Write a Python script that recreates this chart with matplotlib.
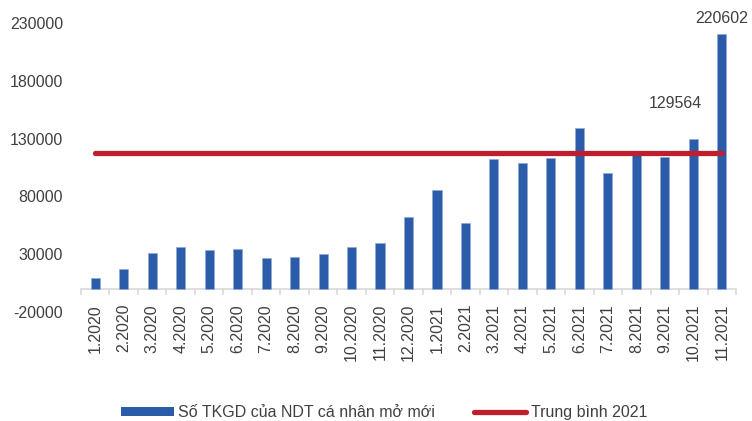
import matplotlib.pyplot as plt
from matplotlib.patches import Patch
from matplotlib.lines import Line2D
import numpy as np

plt.rcParams['font.family'] = ['Liberation Sans', 'DejaVu Sans']
plt.rcParams['axes.unicode_minus'] = False

# Monthly data
months = ['1.2020', '2.2020', '3.2020', '4.2020', '5.2020', '6.2020', '7.2020',
          '8.2020', '9.2020', '10.2020', '11.2020', '12.2020', '1.2021', '2.2021',
          '3.2021', '4.2021', '5.2021', '6.2021', '7.2021', '8.2021', '9.2021',
          '10.2021', '11.2021']
new_accounts = [9000, 17600, 31100, 35800, 33500, 34300, 26500, 27700, 30600,
                35800, 40100, 62300, 85400, 56600, 112200, 109300, 112800,
                139000, 100300, 117500, 113900, 129564, 220602]
avg_2021 = 117900

bar_color = '#2B5CA9'
line_color = '#BE1E2D'
text_color = '#404040'

fig = plt.figure(figsize=(7.52, 4.21), dpi=100)
ax = fig.add_axes([81 / 752, 109 / 421, 655 / 752, 289 / 421])

x = np.arange(len(months))
ax.bar(x, new_accounts, 0.32, color=bar_color, edgecolor='#8FA9D6',
       linewidth=0.5, zorder=2)
ax.plot([x[0], x[-1]], [avg_2021, avg_2021], color=line_color, lw=3.8,
        solid_capstyle='round', zorder=3)

# data labels for the last two months
ax.annotate(f'{new_accounts[-2]}', (x[-2], new_accounts[-2]),
            xytext=(-13, 20), textcoords='offset points', ha='center',
            va='bottom', fontsize=11.5, color=text_color)
ax.annotate(f'{new_accounts[-1]}', (x[-1], new_accounts[-1]),
            xytext=(0, 6), textcoords='offset points', ha='center',
            va='bottom', fontsize=11.5, color=text_color)

ax.set_xlim(-0.5, len(months) - 0.5)
ax.set_ylim(-20000, 230000)
ax.set_yticks(np.arange(-20000, 230001, 50000))
ax.tick_params(axis='y', length=0, labelsize=11.5, labelcolor=text_color, pad=13)

# category axis drawn at zero, with labels hanging below it
for s in ['top', 'right', 'left', 'bottom']:
    ax.spines[s].set_visible(False)
ax.axhline(0, color='#D9D9D9', lw=1.2, zorder=1)
ax.set_xticks([])
for b in np.arange(-0.5, len(months), 1.0):
    ax.plot([b, b], [0, -4500], color='#D9D9D9', lw=1.2, clip_on=False, zorder=1)
for xi, lab in zip(x, months):
    ax.text(xi, -13000, lab, rotation=90, ha='center', va='top',
            fontsize=11.5, color=text_color, clip_on=False)

handles = [
    Patch(facecolor=bar_color, label='Số TKGD của NDT cá nhân mở mới'),
    Line2D([0], [0], color=line_color, lw=3.8, solid_capstyle='round',
           label='Trung bình 2021'),
]
fig.legend(handles=handles, loc='center', bbox_to_anchor=(0.511, 0.02),
           ncol=2, frameon=False, fontsize=11.5, handlelength=3.3,
           handleheight=0.5, handletextpad=0.3, columnspacing=2.4,
           labelcolor=text_color)

plt.savefig('out.png', dpi=100)
